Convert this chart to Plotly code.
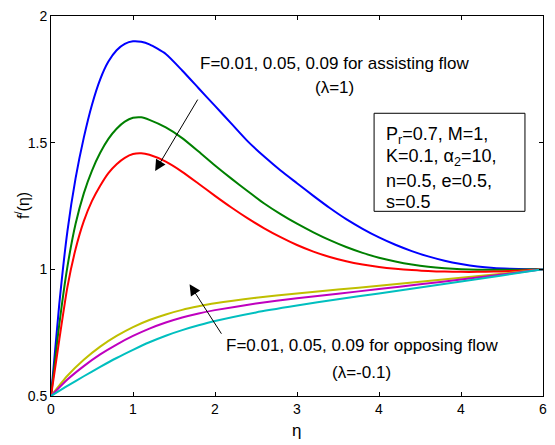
import plotly.graph_objects as go

# ---------------- data ----------------
eta_assist = [0, 0.1, 0.2, 0.3, 0.4, 0.5, 0.6, 0.7, 0.8, 0.9, 1.0, 1.1, 1.2, 1.4, 1.6,
              1.8, 2.0, 2.2, 2.4, 2.6, 2.8, 3.0, 3.2, 3.4, 3.6, 3.8, 4.0, 4.2, 4.4, 4.6,
              4.8, 5.0, 5.2, 5.4, 5.6, 5.8, 6.0]
f_blue = [0.5, 0.86, 1.15, 1.36, 1.52, 1.65, 1.75, 1.82, 1.865, 1.89, 1.90, 1.898, 1.888,
          1.85, 1.785, 1.715, 1.645, 1.575, 1.505, 1.445, 1.39, 1.34, 1.29, 1.242, 1.198,
          1.16, 1.126, 1.097, 1.072, 1.051, 1.034, 1.021, 1.011, 1.005, 1.002, 1.0, 1.0]
f_green = [0.5, 0.78, 1.01, 1.18, 1.30, 1.39, 1.46, 1.515, 1.555, 1.583, 1.598, 1.60, 1.59,
           1.56, 1.518, 1.465, 1.41, 1.358, 1.308, 1.26, 1.218, 1.18, 1.146, 1.115, 1.088,
           1.065, 1.046, 1.031, 1.019, 1.01, 1.004, 1.0, 0.998, 0.998, 0.998, 0.999, 1.0]
f_red = [0.5, 0.72, 0.93, 1.08, 1.19, 1.27, 1.33, 1.38, 1.415, 1.44, 1.455, 1.458, 1.452,
         1.425, 1.385, 1.338, 1.29, 1.244, 1.201, 1.162, 1.127, 1.096, 1.07, 1.049, 1.032,
         1.019, 1.009, 1.002, 0.997, 0.993, 0.991, 0.99, 0.99, 0.991, 0.993, 0.996, 1.0]

eta_oppose = [0, 0.2, 0.4, 0.6, 0.8, 1.0, 1.2, 1.4, 1.6, 1.8, 2.0, 2.5, 3.0, 3.5, 4.0,
              4.5, 5.0, 5.5, 6.0]
f_yellow = [0.5, 0.58, 0.643, 0.695, 0.737, 0.772, 0.80, 0.822, 0.84, 0.854, 0.866,
            0.888, 0.905, 0.92, 0.935, 0.951, 0.967, 0.983, 1.0]
f_magenta = [0.5, 0.565, 0.618, 0.664, 0.703, 0.737, 0.766, 0.79, 0.81, 0.826, 0.839,
             0.865, 0.886, 0.904, 0.922, 0.941, 0.96, 0.98, 1.0]
f_cyan = [0.5, 0.54, 0.578, 0.615, 0.65, 0.682, 0.712, 0.738, 0.76, 0.779, 0.796,
          0.83, 0.857, 0.882, 0.905, 0.928, 0.952, 0.976, 1.0]

x_tickvals = [0, 1, 2, 3, 4, 5, 6]
x_ticktext = ["0", "1", "2", "3", "4", "4", "6"]
y_tickvals = [0.5, 1, 1.5, 2]
y_ticktext = ["0.5", "1", "1.5", "2"]

param_lines = ["P<sub>r</sub>=0.7, M=1,", "K=0.1, α<sub>2</sub>=10,", "n=0.5, e=0.5,", "s=0.5"]
param_line_y = [1.530, 1.440, 1.350, 1.266]

FONT = "Arial, Liberation Sans, sans-serif"

fig = go.Figure()
series = [
    (eta_assist, f_blue, "#0000FF"),
    (eta_assist, f_green, "#008000"),
    (eta_assist, f_red, "#FF0000"),
    (eta_oppose, f_yellow, "#BFBF00"),
    (eta_oppose, f_magenta, "#BF00BF"),
    (eta_oppose, f_cyan, "#00BFBF"),
]
for xs, ys, c in series:
    fig.add_trace(go.Scatter(x=xs, y=ys, mode="lines",
                             line=dict(color=c, width=2, shape="spline", smoothing=0.6),
                             showlegend=False, hoverinfo="skip"))

axis_common = dict(showline=True, linecolor="black", linewidth=1, mirror="ticks",
                   ticks="inside", ticklen=4, tickcolor="black", showgrid=False,
                   zeroline=False, tickfont=dict(family=FONT, size=14, color="black"))

fig.update_xaxes(range=[0, 6], tickvals=x_tickvals, ticktext=x_ticktext, **axis_common)
fig.update_yaxes(range=[0.5, 2], tickvals=y_tickvals, ticktext=y_ticktext, **axis_common)

ann = []
# assisting flow label + arrow
ann.append(dict(x=3.46, y=1.814, xref="x", yref="y", text="F=0.01, 0.05, 0.09 for assisting flow",
                showarrow=False, font=dict(family=FONT, size=17, color="black")))
ann.append(dict(x=3.46, y=1.717, xref="x", yref="y", text="(λ=1)",
                showarrow=False, font=dict(family=FONT, size=17, color="black")))
ann.append(dict(x=1.27, y=1.388, xref="x", yref="y", ax=1.80, ay=1.676, axref="x", ayref="y",
                text="", showarrow=True, arrowhead=2, arrowsize=2.2, arrowwidth=1,
                arrowcolor="black"))
# opposing flow label + arrow
ann.append(dict(x=3.79, y=0.698, xref="x", yref="y", text="F=0.01, 0.05, 0.09 for opposing flow",
                showarrow=False, font=dict(family=FONT, size=17, color="black")))
ann.append(dict(x=3.79, y=0.593, xref="x", yref="y", text="(λ=-0.1)",
                showarrow=False, font=dict(family=FONT, size=17, color="black")))
ann.append(dict(x=1.69, y=0.941, xref="x", yref="y", ax=2.09, ay=0.74, axref="x", ayref="y",
                text="", showarrow=True, arrowhead=2, arrowsize=2.2, arrowwidth=1,
                arrowcolor="black"))
# parameter box text, one annotation per line
for txt, yy in zip(param_lines, param_line_y):
    ann.append(dict(x=4.06, y=yy, xref="x", yref="y", xanchor="left", yanchor="middle",
                    align="left", text=txt, showarrow=False,
                    font=dict(family=FONT, size=18, color="black")))
# axis titles
ann.append(dict(x=0.498, y=0, xref="paper", yref="paper", yshift=-34, yanchor="middle",
                text="η", showarrow=False, font=dict(family=FONT, size=17, color="black")))
ann.append(dict(x=0, y=0.5, xref="paper", yref="paper", xshift=-29, xanchor="center",
                text="f<sup>/</sup>(η)", textangle=-90, showarrow=False,
                font=dict(family=FONT, size=16, color="black")))

fig.update_layout(
    width=555, height=445,
    margin=dict(l=51, r=8, t=9, b=49),
    paper_bgcolor="white", plot_bgcolor="white",
    annotations=ann,
    shapes=[dict(type="rect", xref="x", yref="y", x0=3.94, x1=5.78, y0=1.229, y1=1.616,
                 line=dict(color="black", width=1), fillcolor="rgba(0,0,0,0)")],
)

fig.write_html("out.html")
